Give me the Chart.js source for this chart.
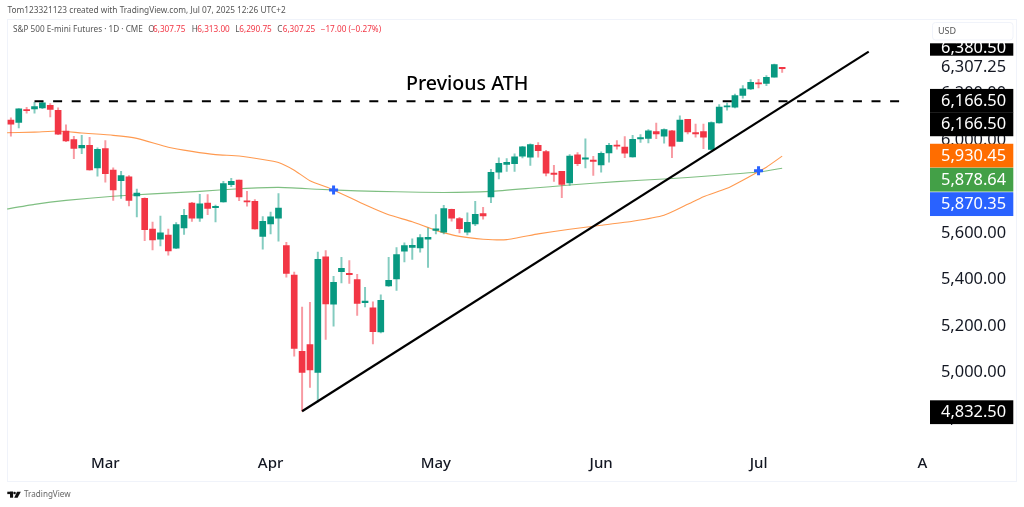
<!DOCTYPE html>
<html>
<head>
<meta charset="utf-8">
<style>html,body{margin:0;padding:0;background:#fff}canvas{display:block}</style>
<script src="https://cdn.jsdelivr.net/npm/chart.js@4/dist/chart.umd.min.js"></script>
</head>
<body>
<div style="width:1024px;height:507px"><canvas id="c" width="1024" height="507"></canvas></div>
<script>
const tradingDates = ["02-11","02-12","02-13","02-14","02-18","02-19","02-20","02-21","02-24","02-25","02-26","02-27","02-28",
"03-03","03-04","03-05","03-06","03-07","03-10","03-11","03-12","03-13","03-14","03-17","03-18","03-19","03-20","03-21","03-24","03-25","03-26","03-27","03-28","03-31",
"04-01","04-02","04-03","04-04","04-07","04-08","04-09","04-10","04-11","04-14","04-15","04-16","04-17","04-21","04-22","04-23","04-24","04-25","04-28","04-29","04-30",
"05-01","05-02","05-05","05-06","05-07","05-08","05-09","05-12","05-13","05-14","05-15","05-16","05-19","05-20","05-21","05-22","05-23","05-27","05-28","05-29","05-30",
"06-02","06-03","06-04","06-05","06-06","06-09","06-10","06-11","06-12","06-13","06-16","06-17","06-18","06-20","06-23","06-24","06-25","06-26","06-27","06-30",
"07-01","07-02","07-03","07-07",
"07-08","07-09","07-10","07-11","07-14","07-15","07-16","07-17","07-18","07-21","07-22","07-23","07-24","07-25","07-28","07-29","07-30","07-31","08-01"];
const monthTicks = {"03-03":"Mar","04-01":"Apr","05-01":"May","06-02":"Jun","07-01":"Jul","08-01":"Aug"};

// candles start at the second slot (02-12); the first slot only carries the moving averages
const opens = [6086,6076,6128,6134,6138,6149,6128,6038,6002,5966,5977,5880,5963,5870,5825,5841,5759,5749,5617,5573,5591,5534,5621,5728,5664,5728,5709,5733,5808,5827,5735,5736,5585,5639,5664,
5545,5418,5090,5119,4999,5497,5293,5433,5426,5399,5300,5278,5174,5372,5402,5521,5538,5535,5573,5611,5603,5702,5662,5603,5639,5683,
5755,5861,5895,5898,5930,5926,5977,5950,5855,5865,5815,5936,5918,5913,5893,5944,5977,5970,5927,6005,6007,6036,6017,6040,5994,6089,6032,6036,5959,6073,6142,6141,6192,6220,6244,6244,6271,6307.75];
const highs = [6095,6135,6141,6162,6167,6157,6138,6065,6016,6020,6012,5966,5997,5880,5865,5847,5789,5751,5647,5672,5617,5644,5702,5732,5766,5765,5720,5822,5835,5828,5779,5743,5670,5690,5769,
5560,5431,5281,5301,5517,5524,5413,5495,5481,5422,5366,5303,5334,5495,5537,5557,5575,5593,5621,5679,5719,5703,5667,5686,5736,5710,
5874,5923,5920,5941,5973,5984,5989,5956,5891,5865,5937,5946,6005,5930,5949,5986,5997,6015,6020,6023,6045,6073,6048,6042,6104,6089,6069,6069,6078,6152,6159,6198,6234,6260,6261,6277,6327,6313];
const lows = [6017,6052,6116,6116,6135,6099,6023,5993,5920,5941,5870,5844,5818,5740,5748,5716,5669,5567,5527,5544,5504,5532,5594,5650,5650,5679,5647,5732,5799,5739,5715,5616,5530,5596,5564,
5409,5069,4832.5,4935,4871,5142,5199,5385,5383,5245,5281,5122,5169,5370,5352,5475,5486,5517,5451,5596,5596,5651,5600,5591,5631,5659,
5730,5832,5865,5865,5923,5891,5926,5845,5822,5752,5805,5890,5880,5848,5862,5905,5961,5924,5926,5990,5987,6006,5986,5924,5994,6026,6012,5963,5956,6072,6128,6138,6180,6217,6224,6234,6270,6290.75];
const closes = [6068,6134,6126,6144,6160,6132,6025,5996,5964,5977,5871,5960,5855,5785,5847,5740,5771,5614,5570,5600,5522,5636,5676,5663,5725,5706,5715,5812,5822,5755,5733,5617,5650,5669,5707,
5426,5103,4999,5010,5486,5294,5387,5448,5420,5297,5307,5175,5310,5396,5507,5545,5547,5580,5581,5618,5705,5664,5618,5646,5680,5673,
5861,5900,5904,5928,5971,5980,5954,5857,5852,5809,5931,5898,5921,5908,5943,5977,5973,5943,6003,6009,6040,6026,6045,5973,6086,6035,6026,6012,6075,6142,6144,6191,6220,6248,6241,6270,6324.25,6307.25];

// moving averages, read at the dates listed
const ma50Dates = ["02-11","02-18","02-21","02-26","03-04","03-07","03-13","03-18","03-21","03-26","03-31","04-02","04-04","04-08","04-11","04-17","04-23","04-28","05-01","05-06","05-09","05-14","05-20","05-27","06-02","06-06","06-12","06-17","06-20","06-25","06-27","07-02","07-07"];
const ma50Values = [6031,6034,6039,6030,6020,6007,5969,5951,5937,5931,5916,5903,5870,5825,5785,5721,5678,5648,5611,5585,5573,5571,5596,5616,5633,5650,5676,5723,5756,5792,5827,5883,5930.45];
const ma200Dates = ["02-11","02-18","02-24","03-04","03-11","03-19","03-26","04-02","04-09","04-16","04-24","05-02","05-12","05-19","05-27","06-04","06-12","06-23","07-01","07-07"];
const ma200Values = [5700,5723,5740,5758,5768,5779,5790,5796,5788,5781,5777,5774,5779,5792,5806,5821,5832,5846,5862,5878.64];

const crossDates = ["04-11","07-01"];
const crossValues = [5785,5868];

const athDates = ["02-18","07-28"];
const athValues = [6166.5,6166.5];
const trendDates = ["04-07","07-22"];
const trendValues = [4832.5,6380.5];

const priceTicks = [6307.25,6200,6000,5600,5400,5200,5000,4800];
const tagTexts = ["6,380.50","6,166.50","6,166.50","5,930.45","5,878.64","5,870.35","4,832.50"];
const tagPrices = [6380.5,6166.5,6166.5,5930.45,5878.64,5870.35,4832.5];
const tagColors = ["#000000","#000000","#000000","#FF6D00","#43A047","#2962FF","#000000"];

const UI = '"Noto Sans", sans-serif';
const GREEN = '#089981', RED = '#F23645';

const candleSlot = arr => [null, ...arr];
const sparse = (ds, vs) => tradingDates.map(d => { const k = ds.indexOf(d); return k < 0 ? null : vs[k]; });

const bodyData = candleSlot(opens.map((o,i)=>[o,closes[i]]));
const wickData = candleSlot(lows.map((l,i)=>[l,highs[i]]));
const bullBear = candleSlot(opens.map((o,i)=>closes[i]>=o));
const bodyCol = bullBear.map(b=>b===null?'rgba(0,0,0,0)':(b?GREEN:RED));
const wickCol = bullBear.map(b=>b===null?'rgba(0,0,0,0)':(b?'rgba(8,153,129,.5)':'rgba(242,54,69,.5)'));

const chrome = {
  id:'chrome',
  beforeDraw(ch){
    const c=ch.ctx; c.save();
    c.fillStyle='#fff'; c.fillRect(0,0,1024,507);
    c.strokeStyle='#F0F3FA'; c.lineWidth=1; c.strokeRect(7.5,19.5,1009,462);
    c.restore();
  },
  afterDraw(ch){
    const c=ch.ctx, y=ch.scales.y;
    c.save();
    c.textBaseline='middle'; c.textAlign='left';
    // hide what passes under the price axis
    c.fillStyle='#fff'; c.fillRect(928,450,85,28);

    // price tags
    const nudges=[0,-0.5,23,-0.5,11.5,34,1];
    c.font='16.4px '+UI;
    tagPrices.forEach((p,i)=>{
      const yc=y.getPixelForValue(p)+nudges[i];
      c.fillStyle=tagColors[i];
      c.fillRect(930,yc-11.9,83.3,23.8);
      c.fillStyle='#fff';
      c.fillText(tagTexts[i],941,(i===0?yc-4:yc)+0.5);
    });
    // USD box and last-price white tag
    c.fillStyle='#fff'; c.fillRect(929,20,86,23.3);
    c.fillRect(929,55.7,86,23.3);
    c.fillStyle='#131722'; c.fillText('6,307.25',941,67.3);
    c.strokeStyle='#F0F3FA'; c.beginPath(); c.roundRect(932.5,22.5,80.5,17.5,3); c.stroke();
    c.font='9px '+UI; c.fillStyle='#555'; c.fillText('USD',938,31);

    // annotation
    c.fillStyle='#000'; c.font='500 19.6px '+UI; c.textAlign='left';
    c.fillText('Previous ATH',406,84.5);

    // header
    c.font='8.3px '+UI; c.fillStyle='#555';
    c.fillText('Tom123321123 created with TradingView.com, Jul 07, 2025 12:26 UTC+2',7.5,11);
    c.font='8.2px '+UI; c.fillStyle='#555';
    c.fillText('S&P 500 E-mini Futures · 1D · CME',13,30);
    c.font='8.2px '+UI;
    const hdr=[['O',148.3,'#555'],['6,307.75',153,RED],['H',191.7,'#555'],['6,313.00',197.3,RED],['L',235.3,'#555'],['6,290.75',239.3,RED],['C',277.3,'#555'],['6,307.25',282.7,RED],['−17.00 (−0.27%)',320.7,RED]];
    hdr.forEach(h=>{c.fillStyle=h[2];c.fillText(h[0],h[1],30);});

    // footer
    c.fillStyle='#111';
    c.fillRect(7.3,491.7,5.8,2.4); c.fillRect(10,491.7,3.1,6);
    c.beginPath(); c.arc(14.6,493,1.2,0,7); c.fill();
    c.beginPath(); c.moveTo(17,491.7); c.lineTo(20.8,491.7); c.lineTo(17.6,497.7); c.lineTo(14.2,497.7); c.closePath(); c.fill();
    c.font='8.1px '+UI; c.fillStyle='#666'; c.fillText('TradingView',24,495);
    c.restore();
  }
};

new Chart(document.getElementById('c'),{
  type:'bar',
  plugins:[chrome],
  data:{
    labels:tradingDates,
    datasets:[
      {type:'line',label:'Trend',data:sparse(trendDates,trendValues),borderColor:'#000',borderWidth:2.2,pointRadius:0,spanGaps:true,order:0},
      {type:'line',label:'ATH',data:sparse(athDates,athValues),borderColor:'#000',borderWidth:2,borderDash:[9,9.6],pointRadius:0,spanGaps:true,order:1},
      {type:'line',label:'Cross',data:sparse(crossDates,crossValues),showLine:false,pointStyle:'cross',pointRadius:4.5,pointBorderWidth:3,pointBorderColor:'#2962FF',pointBackgroundColor:'#2962FF',order:2},
      {type:'bar',label:'Body',data:bodyData,backgroundColor:bodyCol,barThickness:6,minBarLength:1.2,grouped:false,order:3},
      {type:'bar',label:'Wick',data:wickData,backgroundColor:wickCol,barThickness:1.3,grouped:false,order:4},
      {type:'line',label:'MA50',data:sparse(ma50Dates,ma50Values),borderColor:'#FF9A50',borderWidth:1.1,pointRadius:0,spanGaps:true,tension:0.15,clip:{left:-4,right:0,top:0,bottom:0},order:5},
      {type:'line',label:'MA200',data:sparse(ma200Dates,ma200Values),borderColor:'#7FBF82',borderWidth:1.1,pointRadius:0,spanGaps:true,tension:0.15,clip:{left:-4,right:0,top:0,bottom:0},order:6}
    ]
  },
  options:{
    responsive:false,animation:false,
    layout:{autoPadding:false,padding:{left:3.03,right:0,top:20,bottom:0}},
    plugins:{legend:{display:false},tooltip:{enabled:false}},
    scales:{
      x:{
        offset:false,
        grid:{display:false,drawTicks:true,tickLength:8,tickColor:'rgba(0,0,0,0)'},border:{display:false},
        afterFit(s){s.height=60;},
        ticks:{autoSkip:false,maxRotation:0,minRotation:0,padding:0,color:'#131722',font:{family:'"Noto Sans", sans-serif',size:15,weight:'500'},
          callback(v){return monthTicks[this.getLabelForValue(v)]||'';}}
      },
      y:{
        position:'right',min:4678.4,max:6516.6,
        grid:{display:false,drawTicks:false},border:{display:false},
        afterFit(s){s.width=1024-931.69;},
        afterBuildTicks(s){s.ticks=priceTicks.map(v=>({value:v}));},
        ticks:{autoSkip:false,padding:9.3,color:'#131722',font:{family:'"Noto Sans", sans-serif',size:16.4},
          callback(v){return v.toLocaleString('en-US',{minimumFractionDigits:2,maximumFractionDigits:2});}}
      }
    }
  }
});
</script>
</body>
</html>
